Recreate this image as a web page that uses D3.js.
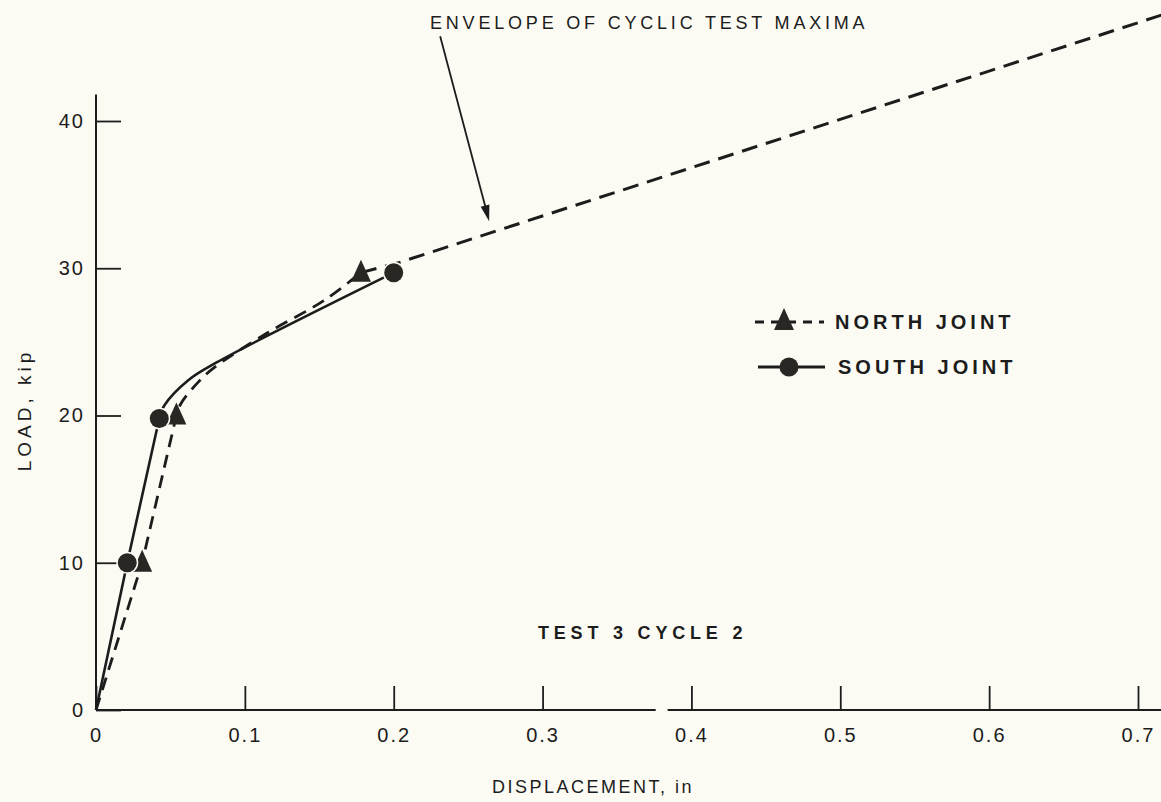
<!DOCTYPE html>
<html>
<head>
<meta charset="utf-8">
<script src="https://cdn.jsdelivr.net/npm/d3@7"></script>
<style>
  html, body { margin: 0; padding: 0; background: #fbfbf3; }
  svg { display: block; }
  text { font-family: "Liberation Sans", Arial, sans-serif; fill: #1c1c1c; }
</style>
</head>
<body>
<svg id="chart" width="1161" height="802"></svg>
<script>
// Load–displacement readings, Test 3 cycle 2 (displacement in inches, load in kip)
const northDisp = [0, 0.031, 0.054, 0.057, 0.069, 0.080, 0.115, 0.153, 0.178];
const northLoad = [0, 10.0, 20.0, 20.8, 22.3, 23.3, 25.6, 27.8, 29.7];
const northMarkDisp = [0.031, 0.054, 0.178];
const northMarkLoad = [10.0, 20.0, 29.7];

const southDisp = [0, 0.021, 0.0425, 0.046, 0.062, 0.081, 0.2];
const southLoad = [0, 10.0, 19.8, 20.7, 22.4, 23.6, 29.7];
const southMarkDisp = [0.021, 0.0425, 0.2];
const southMarkLoad = [10.0, 19.8, 29.7];

// Envelope of the cyclic test maxima
const envDisp = [0.178, 0.204, 0.716];
const envLoad = [29.7, 30.4, 47.2];

const xTicks = [0, 0.1, 0.2, 0.3, 0.4, 0.5, 0.6, 0.7];
const xTickLabels = ["0", "0.1", "0.2", "0.3", "0.4", "0.5", "0.6", "0.7"];
const yTicks = [0, 10, 20, 30, 40];
const yTickLabels = ["0", "10", "20", "30", "40"];

const ink = "#1c1c1c";
const markInk = "#2a2624";
const paper = "#fbfbf3";
const svg = d3.select("#chart");

const x = d3.scaleLinear().domain([0, 0.7]).range([96, 1138]);
const y = d3.scaleLinear().domain([0, 40]).range([710, 121]);

const zip = (a, b) => a.map((v, i) => [v, b[i]]);

// ---- axes ----
const xAxis = d3.axisBottom(x)
  .tickValues(xTicks)
  .tickFormat((d, i) => xTickLabels[i])
  .tickSizeInner(-24).tickSizeOuter(0).tickPadding(18);
const gx = svg.append("g").attr("transform", `translate(0,${y(0)})`).call(xAxis);
gx.select(".domain").remove();

const yAxis = d3.axisLeft(y)
  .tickValues(yTicks)
  .tickFormat((d, i) => yTickLabels[i])
  .tickSizeInner(-25).tickSizeOuter(0).tickPadding(11);
const gy = svg.append("g").attr("transform", `translate(${x(0)},0)`).call(yAxis);
gy.select(".domain").remove();

[gx, gy].forEach(g => {
  g.selectAll(".tick line").attr("stroke", ink).attr("stroke-width", 1.8);
  g.selectAll(".tick text")
    .style("font-size", "20px")
    .style("letter-spacing", "2px")
    .attr("fill", ink);
});

// axis rules (the x rule has a short break, as drawn)
svg.append("line")
  .attr("x1", x(0)).attr("x2", x(0))
  .attr("y1", y(0)).attr("y2", y(41.8))
  .attr("stroke", ink).attr("stroke-width", 2);
svg.append("line")
  .attr("x1", x(0)).attr("x2", x(0.376))
  .attr("y1", y(0)).attr("y2", y(0))
  .attr("stroke", ink).attr("stroke-width", 2);
svg.append("line")
  .attr("x1", x(0.384)).attr("x2", x(0.716))
  .attr("y1", y(0)).attr("y2", y(0))
  .attr("stroke", ink).attr("stroke-width", 2);

// axis titles
svg.append("text")
  .attr("x", 593).attr("y", 793)
  .attr("text-anchor", "middle")
  .style("font-size", "18px").style("letter-spacing", "2.5px")
  .text("DISPLACEMENT, in");
svg.append("text")
  .attr("transform", "translate(31,410) rotate(-90)")
  .attr("text-anchor", "middle")
  .style("font-size", "19px").style("letter-spacing", "4px")
  .text("LOAD, kip");

// ---- curves: straight elastic legs up to the 20-kip reading, smooth knee above ----
const kneeFrom = 2;
const straight = d3.line().x(d => x(d[0])).y(d => y(d[1]));
const smooth = d3.line()
  .x(d => x(d[0])).y(d => y(d[1]))
  .curve(d3.curveCatmullRom.alpha(0.5));
const jointPath = pts =>
  straight(pts.slice(0, kneeFrom + 1)) + smooth(pts.slice(kneeFrom)).replace(/^M[^CLZ]*/, "");

svg.append("path")
  .attr("d", straight(zip(envDisp, envLoad)))
  .attr("fill", "none").attr("stroke", ink)
  .attr("stroke-width", 3).attr("stroke-dasharray", "16,9");

svg.append("path")
  .attr("d", jointPath(zip(northDisp, northLoad)))
  .attr("fill", "none").attr("stroke", ink)
  .attr("stroke-width", 2.8).attr("stroke-dasharray", "13,8");

svg.append("path")
  .attr("d", jointPath(zip(southDisp, southLoad)))
  .attr("fill", "none").attr("stroke", ink)
  .attr("stroke-width", 2.6);

// ---- markers ----
const triPath = "M0,-13L10,9L-10,9Z";
svg.append("g").selectAll("path")
  .data(zip(northMarkDisp, northMarkLoad))
  .join("path")
  .attr("d", triPath)
  .attr("transform", d => `translate(${x(d[0])},${y(d[1])})`)
  .attr("fill", markInk);

const circles = svg.append("g");
circles.selectAll("circle.halo")
  .data(zip(southMarkDisp, southMarkLoad))
  .join("circle").attr("class", "halo")
  .attr("cx", d => x(d[0])).attr("cy", d => y(d[1]))
  .attr("r", 11).attr("fill", paper);
circles.selectAll("circle.dot")
  .data(zip(southMarkDisp, southMarkLoad))
  .join("circle").attr("class", "dot")
  .attr("cx", d => x(d[0])).attr("cy", d => y(d[1]))
  .attr("r", 9.5).attr("fill", markInk);

// ---- envelope annotation ----
const arrowFrom = [0.2312, 45.76];
const arrowTo = [0.2641, 33.2];
const ax0 = x(arrowFrom[0]), ay0 = y(arrowFrom[1]);
const ax1 = x(arrowTo[0]), ay1 = y(arrowTo[1]);
const ang = Math.atan2(ay1 - ay0, ax1 - ax0);
const headLen = 16, headW = 4.5;
svg.append("line")
  .attr("x1", ax0).attr("y1", ay0)
  .attr("x2", ax1 - Math.cos(ang) * 6).attr("y2", ay1 - Math.sin(ang) * 6)
  .attr("stroke", ink).attr("stroke-width", 1.8);
svg.append("path")
  .attr("d", d3.line()([
    [ax1, ay1],
    [ax1 - headLen * Math.cos(ang) + headW * Math.sin(ang), ay1 - headLen * Math.sin(ang) - headW * Math.cos(ang)],
    [ax1 - headLen * Math.cos(ang) - headW * Math.sin(ang), ay1 - headLen * Math.sin(ang) + headW * Math.cos(ang)]
  ]) + "Z")
  .attr("fill", ink);
svg.append("text")
  .attr("x", 430).attr("y", 29)
  .style("font-size", "18px").style("letter-spacing", "3.8px")
  .text("ENVELOPE OF CYCLIC TEST MAXIMA");

// ---- legend ----
const legend = svg.append("g");
legend.append("line")
  .attr("x1", 755).attr("x2", 824).attr("y1", 322).attr("y2", 322)
  .attr("stroke", ink).attr("stroke-width", 2.8).attr("stroke-dasharray", "9,7");
legend.append("path")
  .attr("d", triPath).attr("transform", "translate(784,321)").attr("fill", markInk);
legend.append("text")
  .attr("x", 835).attr("y", 329)
  .style("font-size", "20px").style("font-weight", "bold").style("letter-spacing", "4px")
  .text("NORTH  JOINT");

legend.append("line")
  .attr("x1", 758).attr("x2", 825).attr("y1", 367).attr("y2", 367)
  .attr("stroke", ink).attr("stroke-width", 2.8);
legend.append("circle")
  .attr("cx", 789).attr("cy", 367).attr("r", 9.5).attr("fill", markInk);
legend.append("text")
  .attr("x", 838).attr("y", 374)
  .style("font-size", "20px").style("font-weight", "bold").style("letter-spacing", "4px")
  .text("SOUTH  JOINT");

// test caption
svg.append("text")
  .attr("x", 538).attr("y", 639)
  .style("font-size", "18px").style("font-weight", "bold").style("letter-spacing", "4.8px")
  .text("TEST 3  CYCLE 2");
</script>
</body>
</html>
